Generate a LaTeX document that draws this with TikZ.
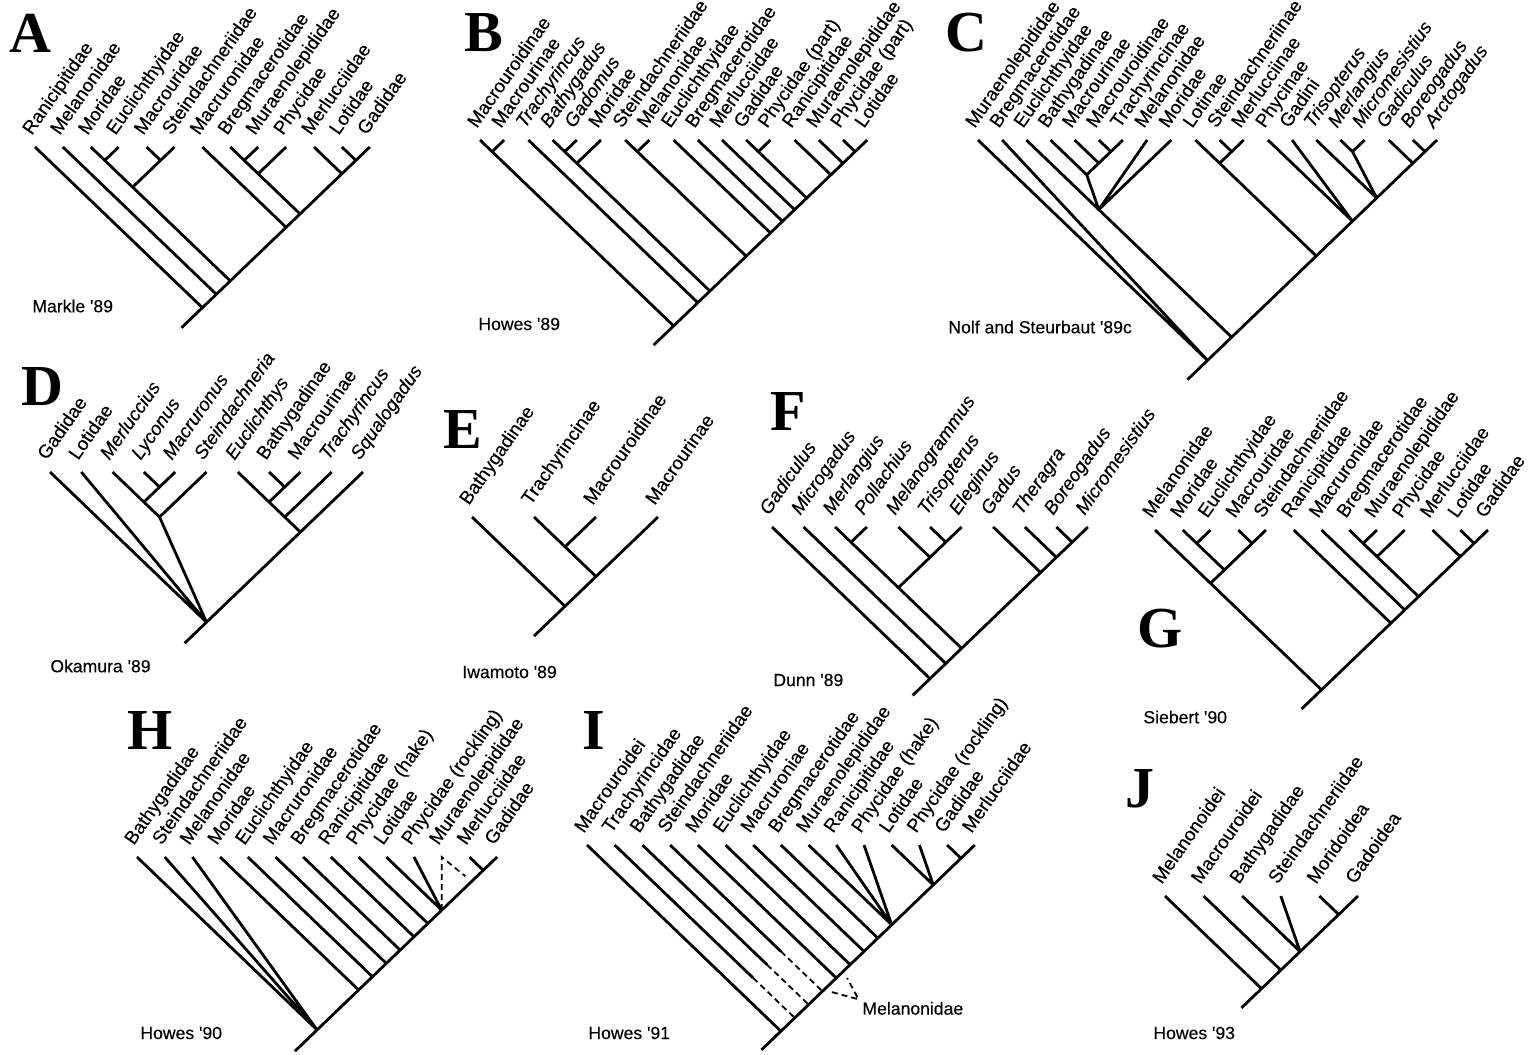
\documentclass[tikz,border=0pt]{standalone}
\usepackage{fontspec}
\setmainfont{Liberation Sans}
\newfontfamily\taxfont{Liberation Sans}[FakeBold=0.3]
\newfontfamily\panelfont{Liberation Serif}

\begin{document}
\begin{tikzpicture}[x=0.5pt, y=-0.5pt,
  branch/.style={line width=1.4pt},
  alt/.style={line width=0.9pt, dash pattern=on 3pt off 2pt},
  taxon/.style={rotate=55, anchor=base west, inner sep=0pt, xshift=3.5pt, yshift=4.5pt,
                font=\taxfont\fontsize{9.4}{11}\selectfont},
  panel/.style={inner sep=0pt, font=\panelfont\bfseries\fontsize{29}{29}\selectfont},
  source/.style={anchor=west, inner sep=0pt, font=\taxfont\fontsize{8.8}{10}\selectfont}]
\useasboundingbox (0,0) rectangle (1528,1055);

% A -- Markle '89
\node[panel] (labA) at (30,33) {A};
\node[source] (srcA) at (32,306) {Markle '89};
\begin{scope}[shift={(35,147)}, x=13.95pt, y=-13.39pt]
  \foreach \t [count=\i from 0] in {Ranicipitidae,Melanonidae,Moridae,%
      Euclichthyidae,Macrouridae,Steindachneriidae,Macruronidae,%
      Bregmacerotidae,Muraenolepididae,Phycidae,Merlucciidae,Lotidae,Gadidae}
    {\coordinate (A\i) at (\i,0); \node[taxon] (tA\i) at (A\i) {\t};}
  \coordinate (A2-3) at (2.5,0.5);
  \coordinate (A4-5) at (4.5,0.5);
  \coordinate (A2-5) at (3.5,1.5);
  \coordinate (A7-8) at (7.5,0.5);
  \coordinate (A7-9) at (8,1);
  \coordinate (A11-12) at (11.5,0.5);
  \coordinate (A10-12) at (11,1);
  \coordinate (A7-12) at (9.5,2.5);
  \coordinate (A6-12) at (9,3);
  \coordinate (A2-12) at (7,5);
  \coordinate (A1-12) at (6.5,5.5);
  \coordinate (Ar) at (6,6);
  \coordinate (As) at (5.25,6.75);
  \draw[branch] (A0) -- (Ar) (A1) -- (A1-12) (A2) -- (A2-12) (A3) -- (A2-3)
    (A4) -- (A4-5) (A5) -- (A2-5) (A6) -- (A6-12) (A7) -- (A7-12)
    (A8) -- (A7-8) (A9) -- (A7-9) (A10) -- (A10-12) (A11) -- (A11-12)
    (A12) -- (Ar) -- (As);
\end{scope}

% B -- Howes '89
\node[panel] (labB) at (484,33) {B};
\node[source] (srcB) at (478,324) {Howes '89};
\begin{scope}[shift={(480,140)}, x=12.1pt, y=-11.62pt]
  \foreach \t [count=\i from 0] in {Macrouroidinae,Macrourinae,\textit{Trachyrincus},%
      \textit{Bathygadus},\textit{Gadomus},Moridae,Steindachneriidae,Melanonidae,%
      Euclichthyidae,Bregmacerotidae,Merlucciidae,Gadidae,Phycidae (part),%
      Ranicipitidae,Muraenolepididae,Phycidae (part),Lotidae}
    {\coordinate (B\i) at (\i,0); \node[taxon] (tB\i) at (B\i) {\t};}
  \coordinate (B0-1) at (0.5,0.5);
  \coordinate (B3-4) at (3.5,0.5);
  \coordinate (B3-5) at (4,1);
  \coordinate (B6-7) at (6.5,0.5);
  \coordinate (B11-12) at (11.5,0.5);
  \coordinate (B15-16) at (15.5,0.5);
  \coordinate (B14-16) at (15,1);
  \coordinate (B13-16) at (14.5,1.5);
  \coordinate (B11-16) at (13.5,2.5);
  \coordinate (B10-16) at (13,3);
  \coordinate (B9-16) at (12.5,3.5);
  \coordinate (B8-16) at (12,4);
  \coordinate (B6-16) at (11,5);
  \coordinate (B3-16) at (9.5,6.5);
  \coordinate (B2-16) at (9,7);
  \coordinate (Br) at (8,8);
  \coordinate (Bs) at (7.17,8.83);
  \draw[branch] (B0) -- (Br) (B1) -- (B0-1) (B2) -- (B2-16) (B3) -- (B3-16)
    (B4) -- (B3-4) (B5) -- (B3-5) (B6) -- (B6-16) (B7) -- (B6-7)
    (B8) -- (B8-16) (B9) -- (B9-16) (B10) -- (B10-16) (B11) -- (B11-16)
    (B12) -- (B11-12) (B13) -- (B13-16) (B14) -- (B14-16) (B15) -- (B15-16)
    (B16) -- (Br) -- (Bs);
\end{scope}

% C -- Nolf and Steurbaut '89c
\node[panel] (labC) at (966,33) {C};
\node[source] (srcC) at (948,327) {Nolf and Steurbaut '89c};
\begin{scope}[shift={(978,140)}, x=12.08pt, y=-11.6pt]
  \foreach \t [count=\i from 0] in {Muraenolepididae,Bregmacerotidae,Euclichthyidae,%
      Bathygadinae,Macrourinae,Macrouroidinae,Trachyrincinae,Melanonidae,Moridae,%
      Lotinae,Steindachneriinae,Merlucciinae,Phycinae,Gadini,\textit{Trisopterus},%
      \textit{Merlangius},\textit{Micromesistius},\textit{Gadiculus},%
      \textit{Boreogadus},\textit{Arctogadus}}
    {\coordinate (C\i) at (\i,0); \node[taxon] (tC\i) at (C\i) {\t};}
  \coordinate (C5-6) at (5.5,0.5);
  \coordinate (C4-6) at (5,1);
  \coordinate (C3-6) at (4.5,1.5);
  \coordinate (C2-8) at (5,3);
  \coordinate (C10-11) at (10.5,0.5);
  \coordinate (C9-11) at (10,1);
  \coordinate (C15-16) at (15.5,0.5);
  \coordinate (C18-19) at (18.5,0.5);
  \coordinate (C17-19) at (18,1);
  \coordinate (C14-19) at (16.5,2.5);
  \coordinate (C12-19) at (15.5,3.5);
  \coordinate (C9-19) at (14,5);
  \coordinate (C2-19) at (10.5,8.5);
  \coordinate (Cr) at (9.5,9.5);
  \coordinate (Cs) at (8.67,10.33);
  \draw[branch] (C0) -- (Cr) (C1) -- (Cr) (C2) -- (C2-19)
    (C3) -- (C3-6) (C4) -- (C4-6) (C5) -- (C5-6) (C6) -- (C3-6) -- (C2-8)
    (C7) -- (C2-8) (C8) -- (C2-8) (C9) -- (C9-19) (C10) -- (C10-11)
    (C11) -- (C9-11) (C12) -- (C12-19) (C13) -- (C12-19) (C14) -- (C14-19)
    (C15) -- (C15-16) (C16) -- (C15-16) -- (C14-19) (C17) -- (C17-19)
    (C18) -- (C18-19) (C19) -- (Cr) -- (Cs);
\end{scope}

% D -- Okamura '89
\node[panel] (labD) at (42,387) {D};
\node[source] (srcD) at (50,666) {Okamura '89};
\begin{scope}[shift={(50,472)}, x=15.65pt, y=-15.02pt]
  \foreach \t [count=\i from 0] in {Gadidae,Lotidae,\textit{Merluccius},%
      \textit{Lyconus},\textit{Macruronus},\textit{Steindachneria},%
      \textit{Euclichthys},Bathygadinae,Macrourinae,\textit{Trachyrincus},%
      \textit{Squalogadus}}
    {\coordinate (D\i) at (\i,0); \node[taxon] (tD\i) at (D\i) {\t};}
  \coordinate (D3-4) at (3.5,0.5);
  \coordinate (D2-4) at (3,1);
  \coordinate (D2-5) at (3.5,1.5);
  \coordinate (D7-8) at (7.5,0.5);
  \coordinate (D6-8) at (7,1);
  \coordinate (D6-9) at (7.5,1.5);
  \coordinate (D6-10) at (8,2);
  \coordinate (Dr) at (5,5);
  \coordinate (Ds) at (4.3,5.7);
  \draw[branch] (D0) -- (Dr) (D1) -- (Dr) (D2) -- (D2-5) -- (Dr)
    (D3) -- (D3-4) (D4) -- (D2-4) (D5) -- (D2-5) (D6) -- (D6-10)
    (D7) -- (D7-8) (D8) -- (D6-8) (D9) -- (D6-9) (D10) -- (Dr) -- (Ds);
\end{scope}

% E -- Iwamoto '89
\node[panel] (labE) at (463,430) {E};
\node[source] (srcE) at (462,672) {Iwamoto '89};
\begin{scope}[shift={(472,517)}, x=31pt, y=-29.76pt]
  \foreach \t [count=\i from 0] in {Bathygadinae,Trachyrincinae,Macrouroidinae,Macrourinae}
    {\coordinate (E\i) at (\i,0); \node[taxon] (tE\i) at (E\i) {\t};}
  \coordinate (E1-2) at (1.5,0.5);
  \coordinate (E1-3) at (2,1);
  \coordinate (Er) at (1.5,1.5);
  \coordinate (Es) at (1,2);
  \draw[branch] (E0) -- (Er) (E1) -- (E1-3) (E2) -- (E1-2) (E3) -- (Er) -- (Es);
\end{scope}

% F -- Dunn '89
\node[panel] (labF) at (788,412) {F};
\node[source] (srcF) at (773,680) {Dunn '89};
\begin{scope}[shift={(772,527)}, x=15.8pt, y=-15.17pt]
  \foreach \t [count=\i from 0] in {Gadiculus,Microgadus,Merlangius,Pollachius,%
      Melanogrammus,Trisopterus,Eleginus,Gadus,Theragra,Boreogadus,Micromesistius}
    {\coordinate (F\i) at (\i,0); \node[taxon] (tF\i) at (F\i) {\itshape\t};}
  \coordinate (F2-3) at (2.5,0.5);
  \coordinate (F5-6) at (5.5,0.5);
  \coordinate (F4-6) at (5,1);
  \coordinate (F2-6) at (4,2);
  \coordinate (F9-10) at (9.5,0.5);
  \coordinate (F8-10) at (9,1);
  \coordinate (F7-10) at (8.5,1.5);
  \coordinate (F2-10) at (6,4);
  \coordinate (F1-10) at (5.5,4.5);
  \coordinate (Fr) at (5,5);
  \coordinate (Fs) at (4.45,5.55);
  \draw[branch] (F0) -- (Fr) (F1) -- (F1-10) (F2) -- (F2-10) (F3) -- (F2-3)
    (F4) -- (F4-6) (F5) -- (F5-6) (F6) -- (F2-6) (F7) -- (F7-10)
    (F8) -- (F8-10) (F9) -- (F9-10) (F10) -- (Fr) -- (Fs);
\end{scope}

% G -- Siebert '90
\node[panel] (labG) at (1160,629) {G};
\node[source] (srcG) at (1143,717) {Siebert '90};
\begin{scope}[shift={(1155,530)}, x=13.875pt, y=-13.32pt]
  \foreach \t [count=\i from 0] in {Melanonidae,Moridae,Euclichthyidae,Macrouridae,%
      Steindachneriidae,Ranicipitidae,Macruronidae,Bregmacerotidae,%
      Muraenolepididae,Phycidae,Merlucciidae,Lotidae,Gadidae}
    {\coordinate (G\i) at (\i,0); \node[taxon] (tG\i) at (G\i) {\t};}
  \coordinate (G1-2) at (1.5,0.5);
  \coordinate (G3-4) at (3.5,0.5);
  \coordinate (G1-4) at (2.5,1.5);
  \coordinate (G0-4) at (2,2);
  \coordinate (G7-8) at (7.5,0.5);
  \coordinate (G7-9) at (8,1);
  \coordinate (G11-12) at (11.5,0.5);
  \coordinate (G10-12) at (11,1);
  \coordinate (G7-12) at (9.5,2.5);
  \coordinate (G6-12) at (9,3);
  \coordinate (G5-12) at (8.5,3.5);
  \coordinate (Gr) at (6,6);
  \coordinate (Gs) at (5.28,6.72);
  \draw[branch] (G0) -- (Gr) (G1) -- (G1-4) (G2) -- (G1-2) (G3) -- (G3-4)
    (G4) -- (G0-4) (G5) -- (G5-12) (G6) -- (G6-12) (G7) -- (G7-12)
    (G8) -- (G7-8) (G9) -- (G7-9) (G10) -- (G10-12) (G11) -- (G11-12)
    (G12) -- (Gr) -- (Gs);
\end{scope}

% H -- Howes '90
\node[panel] (labH) at (150,731) {H};
\node[source] (srcH) at (140,1033) {Howes '90};
\begin{scope}[shift={(137,857)}, x=13.85pt, y=-13.3pt]
  \foreach \t [count=\i from 0] in {Bathygadidae,Steindachneriidae,Melanonidae,%
      Moridae,Euclichthyidae,Macruronidae,Bregmacerotidae,Ranicipitidae,%
      Phycidae (hake),Lotidae,Phycidae (rockling),Muraenolepididae,%
      Merlucciidae,Gadidae}
    {\coordinate (H\i) at (\i,0); \node[taxon] (tH\i) at (H\i) {\t};}
  \coordinate (H12-13) at (12.5,0.5);
  \coordinate (H11a) at (11.85,0.72);
  \coordinate (H9-13) at (11,2);
  \coordinate (H8-13) at (10.5,2.5);
  \coordinate (H7-13) at (10,3);
  \coordinate (H6-13) at (9.5,3.5);
  \coordinate (H5-13) at (9,4);
  \coordinate (H4-13) at (8.5,4.5);
  \coordinate (H3-13) at (8,5);
  \coordinate (Hr) at (6.5,6.5);
  \coordinate (Hs) at (5.7,7.3);
  \draw[branch] (H0) -- (Hr) (H1) -- (Hr) (H2) -- (Hr) (H3) -- (H3-13)
    (H4) -- (H4-13) (H5) -- (H5-13) (H6) -- (H6-13) (H7) -- (H7-13)
    (H8) -- (H8-13) (H9) -- (H9-13) (H10) -- (H9-13) (H12) -- (H12-13)
    (H13) -- (Hr) -- (Hs);
  \draw[alt] (H9-13) -- (H11) -- (H11a);
\end{scope}

% I -- Howes '91
\node[panel] (labI) at (594,731) {I};
\node[source] (srcI) at (588,1033) {Howes '91};
\begin{scope}[shift={(587,845)}, x=13.85pt, y=-13.3pt]
  \foreach \t [count=\i from 0] in {Macrouroidei,Trachyrincidae,Bathygadidae,%
      Steindachneriidae,Moridae,Euclichthyidae,Macruroniae,Bregmacerotidae,%
      Muraenolepididae,Ranicipitidae,Phycidae (hake),Lotidae,%
      Phycidae (rockling),Gadidae,Merlucciidae}
    {\coordinate (I\i) at (\i,0); \node[taxon] (tI\i) at (I\i) {\t};}
  \coordinate (I13-14) at (13.5,0.5);
  \coordinate (I11-14) at (12.5,1.5);
  \coordinate (I8-14) at (11,3);
  \coordinate (I7-14) at (10.5,3.5);
  \coordinate (I6-14) at (10,4);
  \coordinate (I5-14) at (9.5,4.5);
  \coordinate (I4-14) at (9,5);
  \coordinate (I3-14) at (8.5,5.5);
  \coordinate (I2-14) at (8,6);
  \coordinate (I1-14) at (7.5,6.5);
  \coordinate (I1b) at (6,5);
  \coordinate (I2b) at (6.5,4.5);
  \coordinate (I3b) at (7,4);
  \coordinate (Ir) at (7,7);
  \coordinate (Is) at (6.3,7.7);
  \draw[branch] (I0) -- (Ir) (I1) -- (I1b) (I2) -- (I2b) (I3) -- (I3b)
    (I4) -- (I4-14) (I5) -- (I5-14) (I6) -- (I6-14) (I7) -- (I7-14)
    (I8) -- (I8-14) (I9) -- (I8-14) (I10) -- (I8-14) (I11) -- (I11-14)
    (I12) -- (I11-14) (I13) -- (I13-14) (I14) -- (Ir) -- (Is);
  \draw[alt] (I1b) -- (I1-14) (I2b) -- (I2-14) (I3b) -- (I3-14);
  % Melanonidae pointer
  \coordinate (Im1) at (8.84,5.53);
  \coordinate (Im2) at (9.39,5.0);
  \coordinate (Imt) at (9.8,5.8);
  \draw[alt] (Im1) -- (Imt) -- (Im2);
  \node[source] (Imel) at (9.93,6.14) {Melanonidae};
\end{scope}

% J -- Howes '93
\node[panel] (labJ) at (1140,789) {J};
\node[source] (srcJ) at (1153,1033) {Howes '93};
\begin{scope}[shift={(1165,896)}, x=19.3pt, y=-18.53pt]
  \foreach \t [count=\i from 0] in {Melanonoidei,Macrouroidei,Bathygadidae,%
      Steindachneriidae,Moridoidea,Gadoidea}
    {\coordinate (J\i) at (\i,0); \node[taxon] (tJ\i) at (J\i) {\t};}
  \coordinate (J4-5) at (4.5,0.5);
  \coordinate (J2-5) at (3.5,1.5);
  \coordinate (J1-5) at (3,2);
  \coordinate (Jr) at (2.5,2.5);
  \coordinate (Js) at (1.98,3.02);
  \draw[branch] (J0) -- (Jr) (J1) -- (J1-5) (J2) -- (J2-5) (J3) -- (J2-5)
    (J4) -- (J4-5) (J5) -- (Jr) -- (Js);
\end{scope}
\end{tikzpicture}
\end{document}
